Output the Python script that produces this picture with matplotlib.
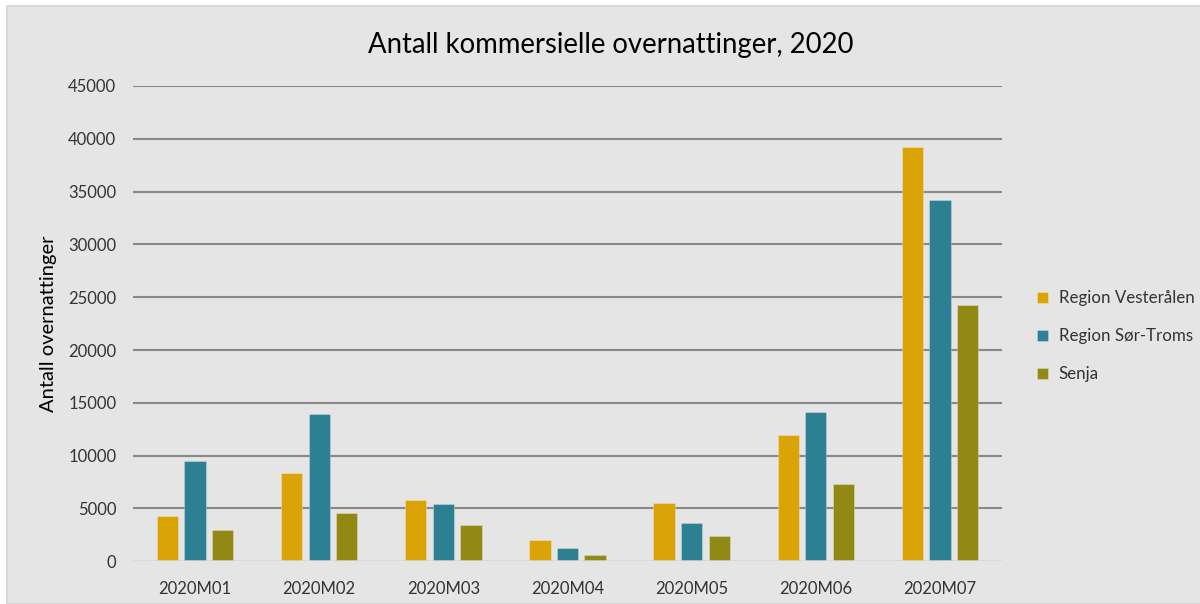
import numpy as np
import matplotlib
matplotlib.use("Agg")
import matplotlib.pyplot as plt
from matplotlib.patches import Rectangle

plt.rcParams['font.family'] = ['Lato', 'DejaVu Sans']

months = ["2020M01", "2020M02", "2020M03", "2020M04", "2020M05", "2020M06", "2020M07"]
vesteralen = [4300, 8350, 5850, 2050, 5550, 11950, 39250]
sor_troms = [9450, 13900, 5400, 1300, 3600, 14100, 34200]
senja = [2950, 4550, 3450, 550, 2350, 7300, 24300]

series = [
    ("Region Vesterålen", vesteralen, "#DAA306"),
    ("Region Sør-Troms", sor_troms, "#2D7F92"),
    ("Senja", senja, "#928814"),
]
y_ticks = [0, 5000, 10000, 15000, 20000, 25000, 30000, 35000, 40000, 45000]

bg = "#e5e5e5"
fig = plt.figure(figsize=(12, 6.04), dpi=100, facecolor="white")
fig.patches.append(Rectangle((7 / 1200, 0), 1, 1 - 6 / 604, transform=fig.transFigure,
                             facecolor=bg, edgecolor="#d4d4d4", linewidth=1.2, zorder=-10))

ax = fig.add_axes([133 / 1200, 1 - 561.3 / 604, (1002 - 133) / 1200, (561.3 - 86) / 604])
ax.set_facecolor(bg)
ax.patch.set_alpha(0)

x = np.arange(len(months))
width = 0.172
offset = 0.222
for i, (name, vals, col) in enumerate(series):
    ax.bar(x + (i - 1) * offset, vals, width, color=col, label=name,
           edgecolor=(1, 1, 1, 0.25), linewidth=0.8, zorder=3)

ax.set_xlim(-0.5, len(months) - 0.5)
ax.set_ylim(0, 45000)
ax.set_yticks(y_ticks)
ax.set_yticklabels([str(v) for v in y_ticks])
ax.set_xticks(x)
ax.set_xticklabels(months)
ax.tick_params(axis="both", length=0, labelsize=12, colors="#333333")
ax.tick_params(axis="y", pad=12)
ax.tick_params(axis="x", pad=14)

for v in y_ticks[1:]:
    ax.axhline(v, color="#888888", linewidth=1.5, zorder=1)
ax.axhline(0, color="#d6d6d6", linewidth=1.8, zorder=4)
for s in ax.spines.values():
    s.set_visible(False)

ax.set_ylabel("Antall overnattinger", fontsize=14.5, color="black", labelpad=8)
fig.text(0.5093, 1 - 45 / 604, "Antall kommersielle overnattinger, 2020",
         ha="center", va="center", fontsize=19.8, color="black")

leg = ax.legend(loc="center left", bbox_to_anchor=((1037 - 133) / 869, 0.474), frameon=False,
                fontsize=12.2, handlelength=0.62, handleheight=0.62, handletextpad=0.65,
                labelspacing=1.3, borderpad=0, borderaxespad=0, labelcolor="#333333")

fig.savefig("out.png", dpi=100, facecolor=fig.get_facecolor())
